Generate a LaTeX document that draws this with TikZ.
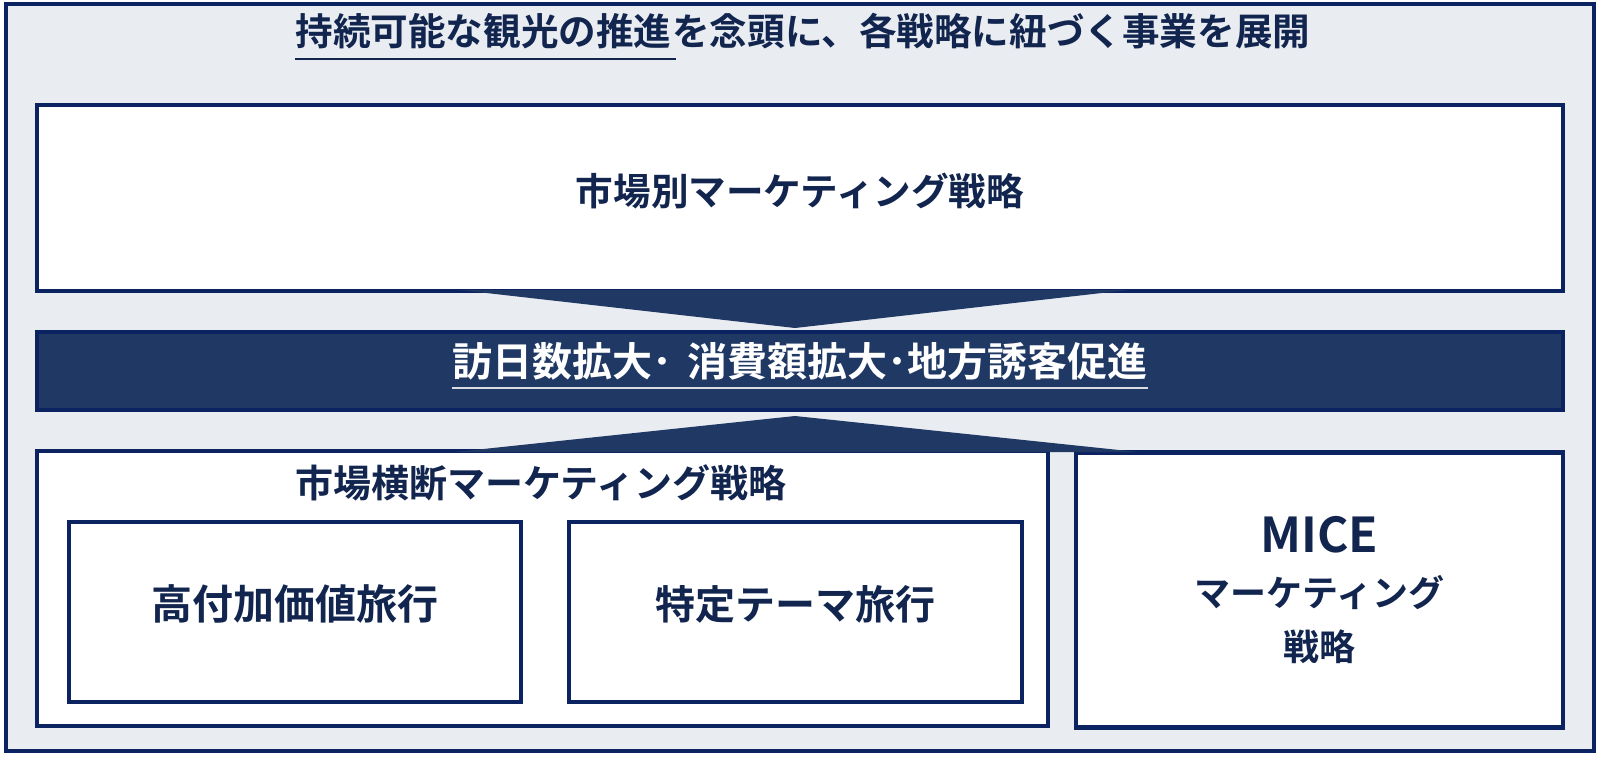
\documentclass[tikz,border=0pt]{standalone}
\usepackage{fontspec}
\setmainfont{Noto Sans CJK JP}[BoldFont={Noto Sans CJK JP Bold}]
\definecolor{navyline}{HTML}{0B2461}
\definecolor{navyfill}{HTML}{1F3864}
\definecolor{navytext}{HTML}{11254F}
\definecolor{bggray}{HTML}{E9ECF1}
\definecolor{ulgray}{HTML}{D9DCE3}
\begin{document}
\begin{tikzpicture}[x=0.5pt,y=-0.5pt,
  frame/.style={draw=navyline, line width=2pt, fill=bggray, inner sep=0pt},
  box/.style={draw=navyline, line width=2.4pt, fill=white, inner sep=0pt, text=navytext},
  bandbox/.style={draw=navyline, line width=2.4pt, fill=navyfill, inner sep=0pt},
  lbl/.style={inner sep=0pt, text=navytext, text height=0.8em, text depth=0.1em},
  chev/.style={fill=navyfill},
  fs/.style={font=\bfseries\fontsize{#1}{#1}\selectfont}]
\useasboundingbox (0,0) rectangle (1600,756);
% outer frame
\node[frame, minimum width=794pt, minimum height=373.5pt] (frame) at (800,377.5) {};
% title
\node[lbl, fs=18.8, anchor=west] (t1) at (295,38) {持続可能な観光の推進};
\node[lbl, fs=18.8, anchor=west] (t2) at (t1.east) {を念頭に、各戦略に紐づく事業を展開};
\coordinate (ul1) at (0,59);
\draw[navytext, line width=1.3pt] (t1.west |- ul1) -- ([xshift=2pt]t1.east |- ul1);
% top box
\node[box, minimum width=763pt, minimum height=93pt, fs=18.8, text height=0.8em, text depth=0.1em] (top) at (800,198) {市場別マーケティング戦略};
% band
\node[bandbox, minimum width=763pt, minimum height=39pt] (band) at (800,371) {};
\node[lbl, fs=20, text=white] (bandtxt) at (800,369) {訪日数拡大･\hspace{0.4em}消費額拡大･地方誘客促進};
\coordinate (ul2) at (0,388);
\draw[ulgray, line width=1.3pt] (bandtxt.west |- ul2) -- (bandtxt.east |- ul2);
% lower boxes
\node[box, minimum width=505.5pt, minimum height=137.5pt] (cross) at (542.5,588.5) {};
\node[box, minimum width=243.5pt, minimum height=137.5pt, align=center, font=\bfseries\fontsize{18}{27}\selectfont] (mice) at (1319.5,590) {{\fontsize{24}{27}\selectfont MICE}\\マーケティング\\戦略};
\node[lbl, fs=19] (crosstxt) at (541,490) {市場横断マーケティング戦略};
\node[box, minimum width=226pt, minimum height=90pt, fs=20.5, text height=0.8em, text depth=0.1em] (sub1) at (295,612) {高付加価値旅行};
\node[box, minimum width=226.5pt, minimum height=90pt, fs=20, text height=0.8em, text depth=0.1em] (sub2) at (795.5,612) {特定テーマ旅行};
% chevrons
\coordinate (dl) at (460,290);
\coordinate (dr) at (1128,290);
\coordinate (da) at (795,328);
\fill[chev] (dl) -- (dr) -- (da) -- cycle;
\coordinate (ul) at (455,452);
\coordinate (ur) at (1138,452);
\coordinate (ua) at (795,416);
\fill[chev] (ul) -- (ur) -- (ua) -- cycle;
\end{tikzpicture}
\end{document}
